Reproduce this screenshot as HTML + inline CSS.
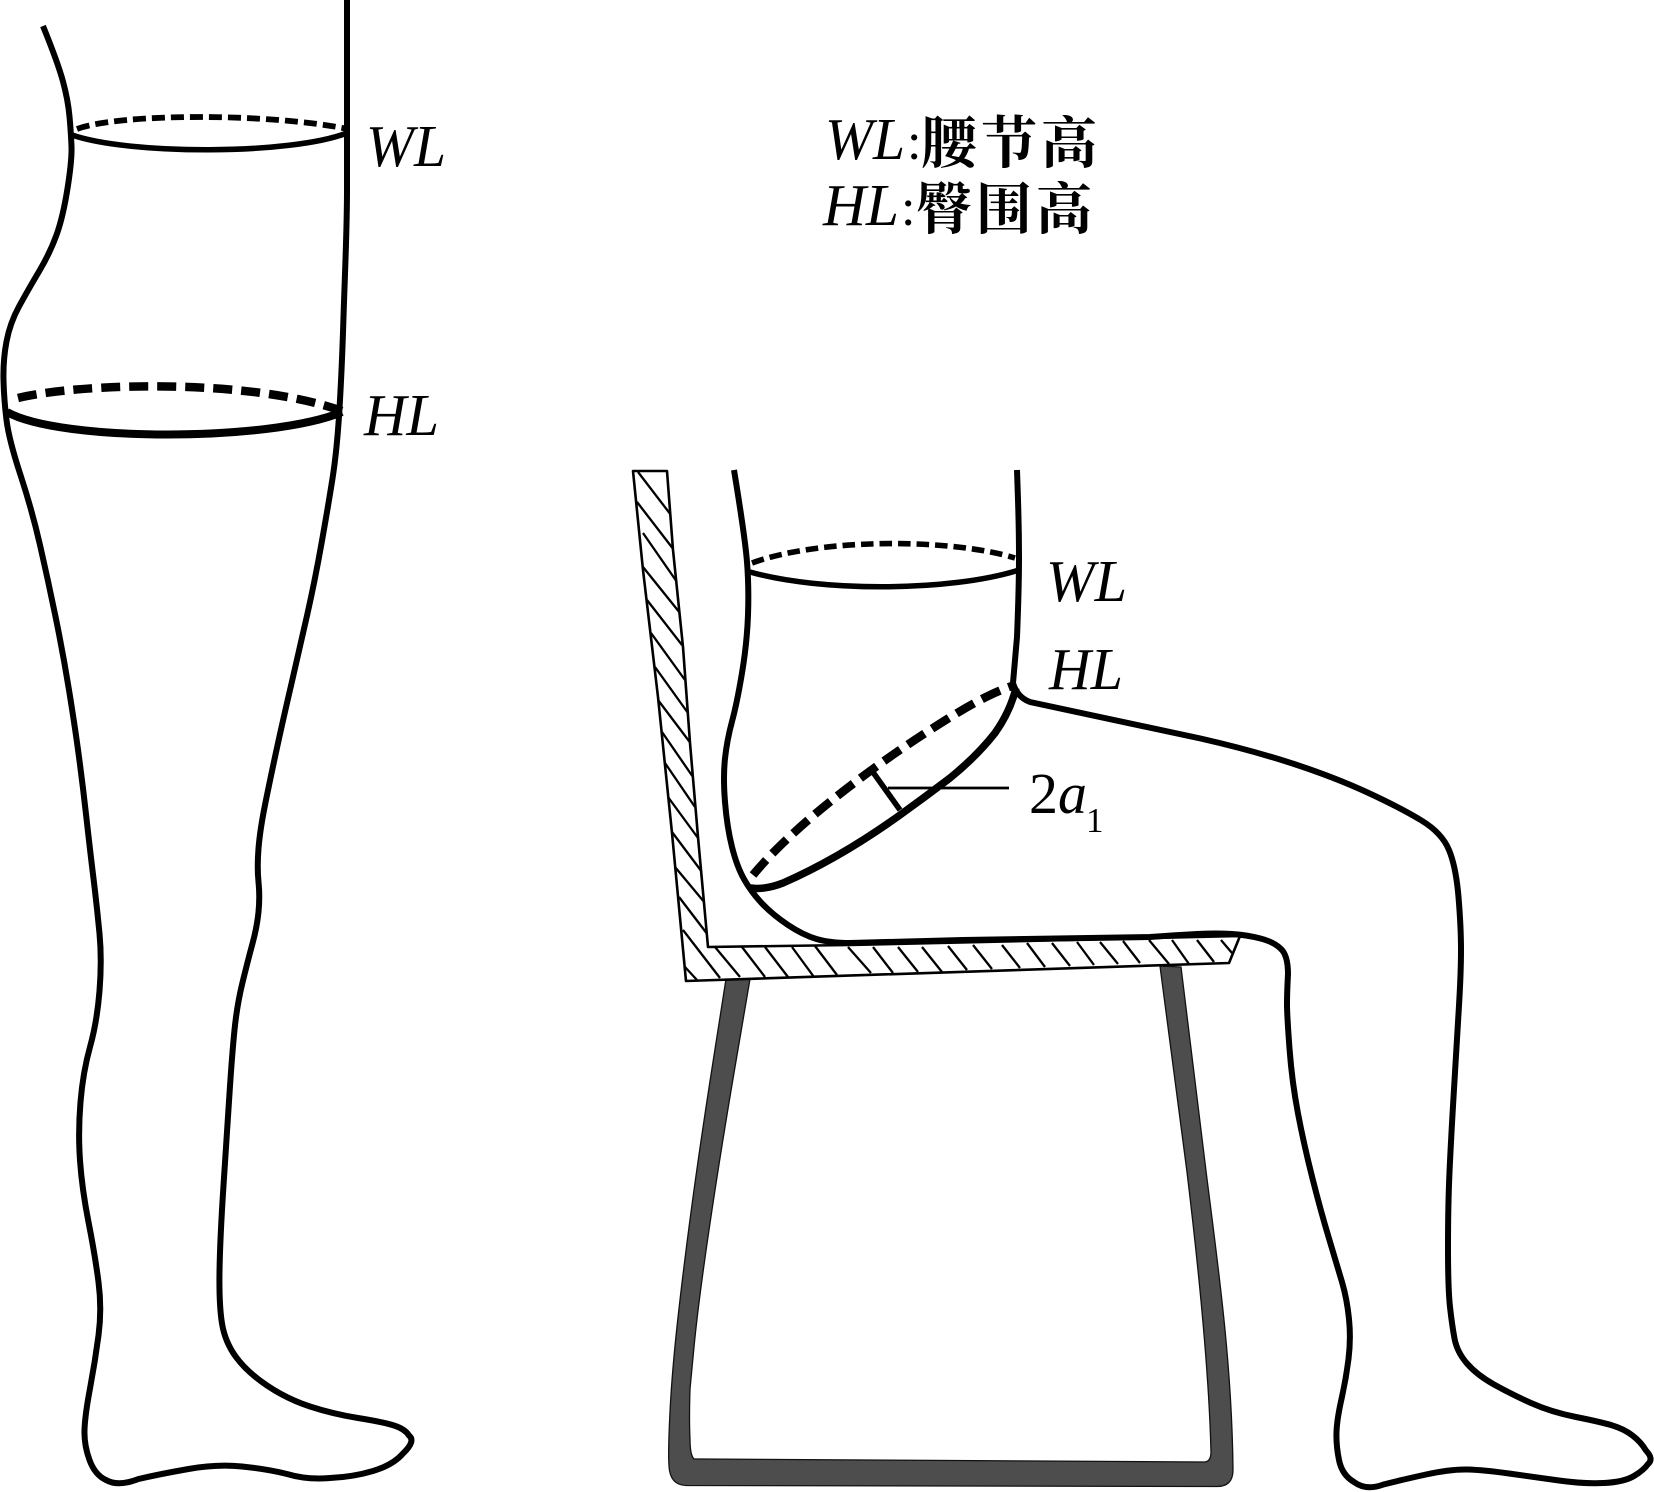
<!DOCTYPE html>
<html><head><meta charset="utf-8"><style>html,body{margin:0;padding:0;background:#fff}svg{display:block}
text{font-family:"Liberation Serif","Noto Serif CJK SC",serif;fill:#000}
.i{font-style:italic;font-size:59px}.c{font-family:"Noto Serif CJK SC","Liberation Serif",serif;font-weight:700;font-size:56px}</style></head><body>
<svg xmlns="http://www.w3.org/2000/svg" width="1654" height="1492" viewBox="0 0 1654 1492">
<defs><clipPath id="p"><path d="M633 471L667 471L673 550L683 647L690 743L698 837L708 947L850 945L1240 936L1229 963L686 981L672 833L658 697L643 570Z"/></clipPath></defs>
<g fill="none" stroke="#000" stroke-width="6">
<path d="M43 26Q58 63 63 81.5Q68 100 69.5 116.5Q71 133 71.5 146.5Q72 160 67.5 188.5Q63 217 56.5 235Q50 253 39 271.5Q28 290 19 306.5Q10 323 6.5 341.5Q3 360 3.5 380Q4 400 6.5 420Q9 440 20.5 475Q32 510 40 545Q48 580 55.5 616.5Q63 653 69 690Q75 727 79 757Q83 787 86.5 818.5Q90 850 93.5 878.5Q97 907 99.5 933.5Q102 960 99.5 991Q97 1022 90 1047Q83 1072 80.5 1102Q78 1132 80 1160.5Q82 1189 88.5 1222Q95 1255 98.5 1282Q102 1309 98.5 1335.5Q95 1362 90 1388.5Q85 1415 84.5 1430Q84 1445 89.5 1460Q95 1475 106 1480Q118 1487 138.5 1479Q160 1474 188.5 1469Q217 1464 242 1466.5Q267 1469 287 1474Q307 1480 330 1478Q353 1477 373 1471Q393 1465 403 1453.5Q416 1441 409 1435.5Q405 1429 394 1425.5Q383 1422 358 1418Q333 1414 310 1406.5Q287 1399 267 1385.5Q247 1372 236 1357Q225 1342 222 1323.5Q219 1305 219.5 1272Q220 1239 223.5 1185.5Q227 1132 229.5 1093.5Q232 1055 234.5 1030Q237 1005 242.5 982.5Q248 960 252.5 943.5Q257 927 258.5 912Q260 897 258.5 882Q257 867 258.5 848.5Q260 830 265 805Q270 780 276.5 750Q283 720 291.5 683.5Q300 647 307.5 613.5Q315 580 321.5 543.5Q328 507 332.5 478.5Q337 450 339.5 408.5Q342 367 343.5 317C345 270 347 230 347 190L347 0"/>
<path d="M72 135C130 155 290 155 347 133" stroke-width="5.5"/>
<path d="M77 129C120 113 270 113 348 129" stroke-width="5.8" stroke-dasharray="13 6"/>
<path d="M7 412C60 442 270 442 342 412" stroke-width="8"/>
<path d="M18 398C80 383 250 378 342 411" stroke-width="8.5" stroke-dasharray="19 9"/>
</g>
<path d="M726 979L713 1062Q700 1145 691.5 1208.5Q683 1272 677.5 1322Q672 1372 670 1412Q668 1452 669 1466Q670 1485 686 1485.5L1216 1486.5Q1233 1487 1233 1470C1232 1370 1220 1280 1207 1179L1181 967L1160 966L1187 1172C1197 1255 1209 1370 1211 1452Q1211 1462 1204 1462L702 1459L694 1459Q690 1455 690 1439Q689 1420 690 1389Q690 1389 694 1347Q698 1305 709 1230Q720 1155 735 1067L750 979Z" fill="#4d4d4d" stroke="#111" stroke-width="1.3"/>
<path d="M633 471L667 471L673 550L683 647L690 743L698 837L708 947L850 945L1240 936L1229 963L686 981L672 833L658 697L643 570Z" fill="#fff"/>
<g clip-path="url(#p)" stroke="#000" stroke-width="2.3" fill="none">
<path d="M638 472L671 515M637 502L674 550M643 533L677 582M643 567L680 613M647 600L682 645M651 633L685 680M655 667L688 713M658 700L692 745M662 732L693 777M665 763L695 807M668 797L698 838M672 832L702 872M675 867L705 903M679 897L708 935M683 930L720 978M685 967L697 980M715 947L740 977M742 947L765 977M765 947L788 977M792 947L814 977M815 946L837 975M848 947L871 973M873 947L893 973M898 947L918 972M922 947L942 972M948 946L967 970M973 945L992 969M1002 945L1020 968M1027 943L1045 967M1052 943L1070 966M1077 942L1094 965M1100 942L1118 964M1123 941L1140 963M1149 940L1169 964M1172 940L1189 964M1197 940L1214 962M1221 940L1232 953"/>
</g>
<path d="M633 471L667 471L673 550L683 647L690 743L698 837L708 947L850 945L1240 936L1229 963L686 981L672 833L658 697L643 570Z" fill="none" stroke="#000" stroke-width="2.6" stroke-linejoin="round"/>
<g fill="none" stroke="#000" stroke-width="6">
<path d="M734 470Q745 537 747 562Q749 587 748 615Q747 643 742 673Q737 703 732 721.5Q727 740 725 758.5Q723 777 725 802Q727 827 732 847Q737 867 744.5 880Q752 893 762.5 904Q773 915 788 925Q803 935 816.5 939Q830 943 850 943L963 940L1150 937Q1177 935 1197 934Q1217 933 1232 934Q1247 935 1260.5 938.5Q1274 942 1280.5 948.5Q1288 955 1288 974Q1287 993 1287 1004Q1287 1015 1289.5 1048.5Q1292 1082 1298 1113.5Q1304 1145 1312.5 1178.5Q1321 1212 1329 1238.5Q1337 1265 1342 1282Q1347 1299 1349 1319Q1351 1339 1348.5 1359Q1346 1379 1341.5 1399Q1337 1419 1336.5 1432Q1336 1445 1339 1460Q1342 1475 1354 1482Q1366 1491 1383.5 1484.5Q1401 1480 1426 1474.5Q1451 1469 1467.5 1469.5Q1484 1470 1509 1473.5Q1534 1477 1559 1480.5Q1584 1484 1604 1483Q1624 1482 1634 1476Q1644 1470 1648 1464Q1654 1459 1646 1450.5Q1641 1442 1632.5 1435.5Q1624 1429 1612.5 1425.5Q1601 1422 1576 1417Q1551 1412 1531 1403Q1511 1394 1494 1384.5Q1477 1375 1467 1363.5Q1457 1352 1454.5 1338.5Q1452 1325 1450 1307Q1448 1289 1448 1247Q1448 1205 1449.5 1172Q1451 1139 1454 1089Q1457 1039 1459 1005.5Q1461 972 1461 949.5Q1461 927 1458.5 897Q1456 867 1449 850Q1442 833 1421.5 820.5Q1401 808 1367.5 792.5Q1334 777 1292.5 763.5Q1251 750 1200.5 738.5L1030 702Q1017 697 1013 683L1017 637Q1019 587 1019 558Q1019 530 1018 500L1017 470"/>
<path d="M750 572C820 592 950 592 1019 570" stroke-width="5.5"/>
<path d="M752 563C820 538 950 538 1015 558" stroke-width="5.6" stroke-dasharray="12.5 6"/>
<path d="M1016 688Q1010 712 995 733Q977 756 950 778Q925 797 900 815Q840 858 783 883Q765 890 750 888" stroke-width="7.5"/>
<path d="M753 875C790 830 860 775 930 730C955 714 985 695 1012 686" stroke-width="8.5" stroke-dasharray="20 9"/>
<path d="M870 768L900 810" stroke-width="5.6"/>
<path d="M888 788L1009 788" stroke-width="2.7"/>
</g>
<text class="i" x="366" y="166" textLength="80" lengthAdjust="spacingAndGlyphs">WL</text>
<text class="i" x="364" y="435" textLength="75" lengthAdjust="spacingAndGlyphs">HL</text>
<text class="i" x="1046" y="601" textLength="81" lengthAdjust="spacingAndGlyphs">WL</text>
<text class="i" x="1049" y="689" textLength="74" lengthAdjust="spacingAndGlyphs">HL</text>
<text x="1029" y="813" font-size="58">2<tspan font-style="italic">a</tspan></text>
<text x="1086" y="832" font-size="35">1</text>
<text class="i" x="825" y="159" textLength="80" lengthAdjust="spacingAndGlyphs">WL</text>
<text x="907" y="159" font-size="52">:</text>
<text class="c" x="921" y="163" textLength="176">腰节高</text>
<text class="i" x="823" y="225" textLength="76" lengthAdjust="spacingAndGlyphs">HL</text>
<text x="901" y="225" font-size="52">:</text>
<text class="c" x="916" y="229" textLength="176">臀围高</text>
</svg></body></html>
